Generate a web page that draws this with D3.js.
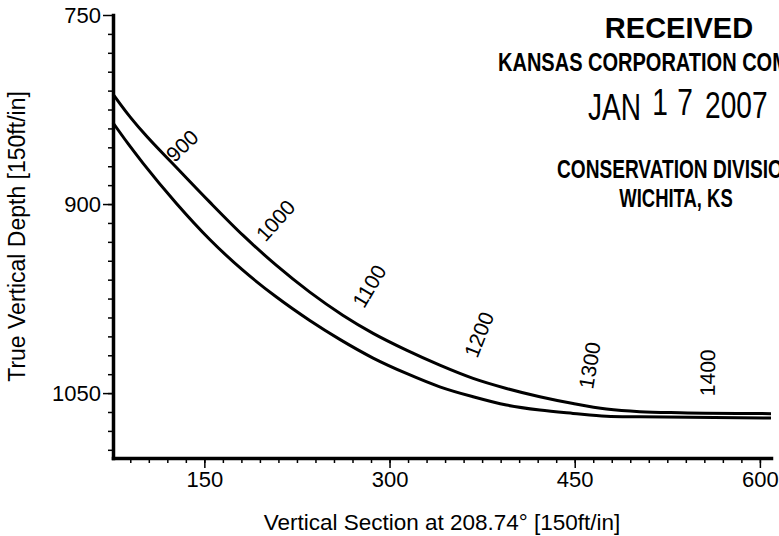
<!DOCTYPE html>
<html>
<head>
<meta charset="utf-8">
<script src="https://cdn.jsdelivr.net/npm/d3@7/dist/d3.min.js"></script>
<style>
    body { margin: 0; background: #fff; }
    svg { display: block; }
    text { font-family: "Liberation Sans", Arial, sans-serif; fill: #000; }
</style>
</head>
<body>
<div id="chart"></div>
<script>
'use strict';

// well path, upper line (vertical section / true vertical depth)
const upperVS  = [76, 88.2, 100.4, 127.4, 154.4, 181.4, 208.4, 235.4, 262.1, 286.7, 313.7, 340.7, 367.7, 394.7, 421.7, 448.7, 475.7, 502.7, 535.3, 609];
const upperTVD = [812.7, 828.8, 843.1, 871, 898.5, 924.9, 948.7, 969.9, 988.2, 1002.6, 1015.9, 1027.8, 1038.3, 1046.3, 1052.9, 1058.3, 1062.7, 1064.8, 1065.6, 1066.3];

// lower line
const lowerVS  = [76, 88.2, 100.4, 127.4, 154.4, 181.4, 208.4, 235.4, 259.7, 286.7, 313.7, 340.7, 367.7, 394.7, 421.7, 448.7, 475.7, 502.7, 609];
const lowerTVD = [835.5, 852.1, 867.7, 899.5, 928.1, 952.7, 973.8, 992.4, 1007.4, 1022.2, 1034.4, 1045, 1052.9, 1059.5, 1063.5, 1066.1, 1068.3, 1068.8, 1069.8];

// measured depth labels along the path
const mdLabels = ['900', '1000', '1100', '1200', '1300', '1400'];
const mdVS  = [121.7, 195, 274.3, 365.5, 459, 557.4];
const mdTVD = [863.3, 926.9, 980.4, 1020.8, 1046.3, 1052.4];

// axis ticks
const xMajor = [150, 300, 450, 600];
const xMinor = d3.range(90, 609, 15);
const yMajor = [750, 900, 1050];
const yMinor = d3.range(765, 1101, 15);

const width = 779,
    height = 536,
    margin = { top: 15, right: 8, bottom: 78, left: 113 };

const svg = d3.select('#chart').append('svg')
    .attr('width', width)
    .attr('height', height);

const x = d3.scaleLinear().domain([76, 609]).range([margin.left, width - margin.right]);
const y = d3.scaleLinear().domain([750, 1101.5]).range([margin.top, height - margin.bottom]);

/*
* axes: minor ticks first, then major ticks with labels and the heavy axis line
 */
svg.append('g')
    .attr('transform', 'translate(0,' + (height - margin.bottom) + ')')
    .call(d3.axisBottom(x).tickValues(xMinor).tickSize(5).tickSizeOuter(0).tickFormat(''))
    .call(g => g.select('.domain').remove())
    .call(g => g.selectAll('.tick line').attr('stroke-width', 1.5));

svg.append('g')
    .attr('transform', 'translate(' + margin.left + ',0)')
    .call(d3.axisLeft(y).tickValues(yMinor).tickSize(5).tickSizeOuter(0).tickFormat(''))
    .call(g => g.select('.domain').remove())
    .call(g => g.selectAll('.tick line').attr('stroke-width', 1.5));

let xAxis = svg.append('g')
    .attr('transform', 'translate(0,' + (height - margin.bottom) + ')')
    .call(d3.axisBottom(x).tickValues(xMajor).tickSize(10).tickPadding(3).tickSizeOuter(0).tickFormat(d3.format('d')));

let yAxis = svg.append('g')
    .attr('transform', 'translate(' + margin.left + ',0)')
    .call(d3.axisLeft(y).tickValues(yMajor).tickSize(10).tickPadding(2).tickSizeOuter(0).tickFormat(d3.format('d')));

[xAxis, yAxis].forEach(function (g) {
    g.select('.domain').attr('stroke-width', 3.5).attr('stroke-linecap', 'square');
    g.selectAll('.tick line').attr('stroke-width', 1.5);
    g.selectAll('.tick text')
        .style('font-family', '"Liberation Sans", Arial, sans-serif')
        .attr('font-size', 22)
        .attr('fill', '#000');
});

svg.append('text')
    .attr('x', (margin.left + width - margin.right) / 2)
    .attr('y', 530)
    .attr('text-anchor', 'middle')
    .attr('font-size', 22.5)
    .text('Vertical Section at 208.74° [150ft/in]');

svg.append('text')
    .attr('transform', 'translate(25,' + ((margin.top + height - margin.bottom) / 2) + ') rotate(-90)')
    .attr('text-anchor', 'middle')
    .attr('font-size', 23)
    .text('True Vertical Depth [150ft/in]');

/*
* well path lines
 */
const line = d3.line()
    .x(function (d) { return x(d[0]); })
    .y(function (d) { return y(d[1]); })
    .curve(d3.curveMonotoneX);

const upper = d3.zip(upperVS, upperTVD),
    lower = d3.zip(lowerVS, lowerTVD);

svg.selectAll('.path-line')
    .data([upper, lower])
    .enter()
    .append('path')
    .attr('class', 'path-line')
    .attr('d', line)
    .style('fill', 'none')
    .style('stroke', '#000')
    .style('stroke-width', 3);

/*
* depth labels, turned square to the upper line
 */
function normalAngle(vs) {
    let j = Math.max(0, Math.min(upperVS.length - 2, d3.bisectRight(upperVS, vs) - 1));
    let dx = x(upperVS[j + 1]) - x(upperVS[j]),
        dy = y(upperTVD[j + 1]) - y(upperTVD[j]);
    return Math.atan2(dy, dx) * 180 / Math.PI - 90;
}

svg.selectAll('.md-label')
    .data(mdLabels)
    .enter()
    .append('text')
    .attr('class', 'md-label')
    .attr('font-size', 21)
    .attr('dy', '0.35em')
    .attr('transform', function (d, i) {
        return 'translate(' + x(mdVS[i]) + ',' + y(mdTVD[i]) + ') rotate(' + normalAngle(mdVS[i]) + ')';
    })
    .text(function (d) { return d; });

/*
* received stamp (runs off the right edge, as on the scan)
 */
let stamp = svg.append('g').attr('font-weight', 'bold');

stamp.append('text')
    .attr('x', 679).attr('y', 38)
    .attr('text-anchor', 'middle')
    .attr('font-size', 29)
    .text('RECEIVED');

stamp.append('text')
    .attr('transform', 'translate(498,71) scale(0.77,1)')
    .attr('font-size', 26)
    .text('KANSAS CORPORATION COMMISSION');

svg.append('text')
    .attr('transform', 'translate(588,120) scale(0.76,1)')
    .attr('font-size', 37)
    .text('JAN');
svg.append('text')
    .attr('transform', 'translate(660,115) scale(0.76,1)')
    .attr('text-anchor', 'middle')
    .attr('font-size', 37)
    .text('1');
svg.append('text')
    .attr('transform', 'translate(685,115) scale(0.76,1)')
    .attr('text-anchor', 'middle')
    .attr('font-size', 37)
    .text('7');
svg.append('text')
    .attr('transform', 'translate(705,118) scale(0.76,1)')
    .attr('font-size', 37)
    .text('2007');

stamp.append('text')
    .attr('transform', 'translate(557,178) scale(0.735,1)')
    .attr('font-size', 26)
    .text('CONSERVATION DIVISION');

stamp.append('text')
    .attr('transform', 'translate(676,207) scale(0.71,1)')
    .attr('text-anchor', 'middle')
    .attr('font-size', 26)
    .text('WICHITA, KS');
</script>
</body>
</html>
